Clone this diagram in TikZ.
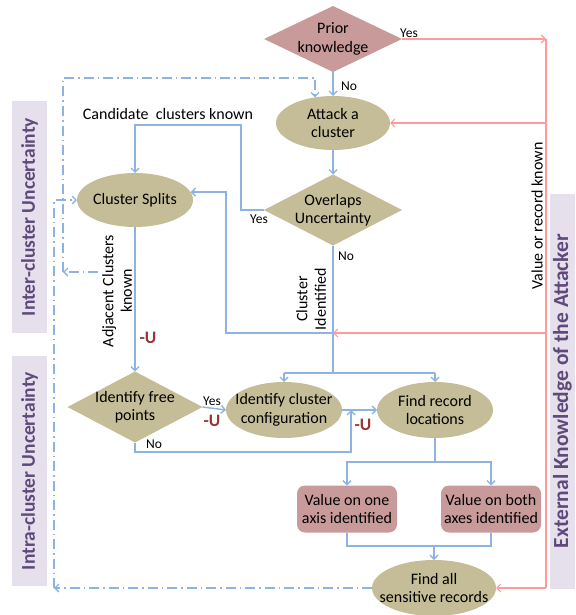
\documentclass[tikz,border=0pt]{standalone}
\usepackage{fontspec}
\setmainfont{Carlito}
\usetikzlibrary{shapes.geometric,arrows.meta,calc}
\definecolor{tanfill}{HTML}{C4BD97}
\definecolor{rosefill}{HTML}{C99A9A}
\definecolor{flow}{HTML}{8DB3E2}
\definecolor{ext}{HTML}{FF9B9B}
\definecolor{band}{HTML}{E5E0EC}
\definecolor{bandtext}{HTML}{5F497A}
\definecolor{minus}{HTML}{953735}

\begin{document}
\begin{tikzpicture}[x=1pt,y=-1pt,
  every node/.style={inner sep=0pt, outer sep=0pt},
  txt/.style={align=center, font=\fontsize{16}{18.5}\selectfont},
  lab/.style={font=\fontsize{13.5}{16}\selectfont},
  oval/.style={ellipse, fill=tanfill},
  dia/.style={diamond, fill=#1},
  card/.style={rectangle, rounded corners=8pt, fill=rosefill,
    minimum width=100pt, minimum height=47pt},
  bandbox/.style={fill=band, rotate=90, text=bandtext,
    font=\fontsize{19.5}{22}\selectfont\bfseries},
  minusu/.style={text=minus, font=\fontsize{17.5}{20}\selectfont\bfseries},
  flowline/.style={draw=flow, line width=1.4pt},
  extline/.style={draw=ext, line width=1.2pt},
  dd/.style={draw=flow, line width=1.3pt,
    dash pattern=on 10pt off 4pt on 1.5pt off 4pt},
  tip/.style={-{Straight Barb[length=4pt,width=8pt]}}
]
\useasboundingbox (0,0) rectangle (575,615);

% side bands
\node[bandbox, minimum width=232pt, minimum height=35pt] (inter) at (29.5,217)
  {Inter-cluster Uncertainty};
\node[bandbox, minimum width=230pt, minimum height=35pt] (intra) at (29.5,471)
  {Intra-cluster Uncertainty};
\node[bandbox, minimum width=395pt, minimum height=25pt,
  font=\fontsize{21.5}{24}\selectfont\bfseries] (extk) at (562.5,391)
  {External Knowledge of the Attacker};

% shapes
\node[dia=rosefill, minimum width=138pt, minimum height=66pt,
  label={[txt]center:Prior\\knowledge}] (prior) at (333,39) {};
\node[oval, minimum width=114pt, minimum height=54pt,
  label={[txt]center:Attack a\\cluster}] (attack) at (333,123) {};
\node[dia=tanfill, minimum width=138pt, minimum height=71pt,
  label={[txt]center:Overlaps\\Uncertainty}] (overlap) at (333,210) {};
\node[oval, minimum width=116pt, minimum height=54pt,
  label={[txt]center:Cluster Splits}] (splits) at (135,200) {};
\node[dia=tanfill, minimum width=135pt, minimum height=71pt,
  label={[txt]center:Identify free\\points}] (free) at (135,407) {};
\node[oval, minimum width=116pt, minimum height=56pt,
  label={[txt]center:Identify cluster\\configuration}] (config) at (284,410) {};
\node[oval, minimum width=116pt, minimum height=56pt,
  label={[txt]center:Find record\\locations}] (find) at (435,410) {};
\node[card, label={[txt]center:Value on one\\axis identified}] (one) at (347,509) {};
\node[card, label={[txt]center:Value on both\\axes identified}] (both) at (491,509) {};
\node[oval, minimum width=124pt, minimum height=56pt,
  label={[txt]center:Find all\\sensitive records}] (sens) at (434,588) {};

% junction points
\coordinate (j1) at (333,333);
\coordinate (j2) at (333,373);
\coordinate (j3) at (435,462);
\coordinate (j4) at (434,546);
\coordinate (c1) at (241,125);
\coordinate (c2) at ($(splits.8)+(35.5,0)$);
\coordinate (c3) at (351,452);
\coordinate (etop) at (546,39);
\coordinate (ebot) at (546,588);

% main flow
\draw[flowline, tip] (prior.south) -- (attack.north);
\draw[flowline, tip] (attack.south) -- (overlap.north);
\draw[flowline, tip] (overlap.west) -| (c1) -| (splits.north);
\draw[flowline] (overlap.south) -- (j2);
\draw[flowline, tip] (j1) -| (c2) -- (splits.8);
\draw[flowline, tip] (splits.south) -- (free.north);
\draw[flowline] (j2 -| config) -- (j2 -| find);
\draw[flowline, tip] (j2 -| config) -- (config.north);
\draw[flowline, tip] (j2 -| find) -- (find.north);
\draw[flowline, tip] (free.east) -- (config.west);
\draw[flowline, tip] (free.south) |- (c3) -- (c3 |- config);
\draw[flowline, tip] (config.east) -- (find.west);
\draw[flowline] (find.south) -- (j3);
\draw[flowline, tip] (j3) -| (one.north);
\draw[flowline, tip] (j3) -| (both.north);
\draw[flowline] (one.south) |- (j4) -| (both.south);
\draw[flowline, tip] (j4) -- (sens.north);

% external knowledge
\draw[extline, tip] (prior.east) -- (etop);
\draw[extline] (etop) -- (ebot);
\draw[extline, tip] (etop |- attack) -- (attack.east);
\draw[extline, tip] (etop |- j1) -- (j1);
\draw[extline, tip] (ebot) -- (sens.east);

% feedback loops
\coordinate (d1) at (98,272);
\coordinate (d2) at (63,272);
\coordinate (d3) at (63,78);
\coordinate (d4) at (54,588);
\draw[dd, tip] (d1) -- (d2);
\draw[dd, tip] (d2) -- (d3) -| (attack.125);
\draw[dd, tip] (sens.west) -- (d4);
\draw[dd, tip] (d4) |- (splits.west);

% labels
\node[lab] (yes1) at (409,33) {Yes};
\node[lab] (no1) at (349,86) {No};
\node[txt] (cand) at (168,114) {Candidate\ \ clusters known};
\node[lab] (yes2) at (259,219) {Yes};
\node[lab] (no2) at (346,256) {No};
\node[txt, rotate=90] (cid) at (311,299) {Cluster\\Identified};
\node[txt, rotate=90] (adj) at (117,291) {Adjacent Clusters\\known};
\node[lab] (yes3) at (212,401) {Yes};
\node[lab] (no3) at (154,444) {No};
\node[minusu] (u1) at (148,338) {-U};
\node[minusu] (u2) at (212,421) {-U};
\node[minusu] (u3) at (363,425) {-U};
\node[txt, rotate=90] (vrk) at (537,216) {Value or record known};
\end{tikzpicture}
\end{document}
